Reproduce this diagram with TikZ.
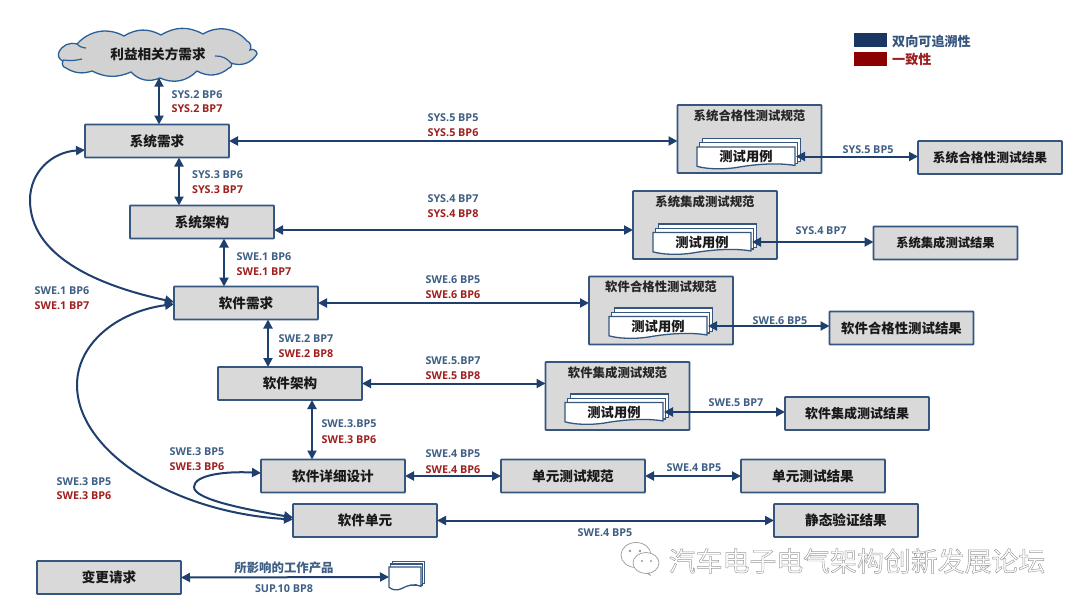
\documentclass[tikz,border=0pt]{standalone}
\usepackage{fontspec}
\usetikzlibrary{arrows.meta}
\newfontfamily\cjk{Noto Sans CJK SC}
\newfontfamily\latinlabel{Open Sans}
\definecolor{navy}{HTML}{1F3F6E}
\definecolor{boxline}{HTML}{34567F}
\definecolor{boxfill}{HTML}{D9D9D9}
\definecolor{bluetext}{HTML}{3F5F85}
\definecolor{redtext}{HTML}{A02020}
\definecolor{legendblue}{HTML}{1A3663}
\definecolor{legendred}{HTML}{8B0000}
\definecolor{cloudline}{HTML}{2A6099}
\newcommand{\boxfont}[1]{\cjk\bfseries\fontsize{#1}{15}\selectfont}
\tikzset{
  box/.style={draw=boxline,fill=boxfill,line width=1.6pt,outer sep=0pt,inner sep=0pt,
    minimum width=144pt,minimum height=33pt,rounded corners=0.5pt,font=\boxfont{13.6},text=black!90},
  specbox/.style={box,minimum height=68pt},
  spectitle/.style={font=\boxfont{12.4},text=black!85,inner sep=0pt},
  link/.style={draw=navy,line width=2pt,{Triangle[length=9pt,width=9pt]}-{Triangle[length=9pt,width=9pt]}},
  bluelabel/.style={font=\latinlabel\bfseries\fontsize{10.8}{12}\selectfont,text=bluetext,inner sep=0pt},
  redlabel/.style={font=\latinlabel\bfseries\fontsize{10.8}{12}\selectfont,text=redtext,inner sep=0pt},
  sheet/.style={draw=boxline,fill=white,line width=1.3pt},
  doctext/.style={font=\boxfont{13.3},text=black!90,inner sep=0pt,outer sep=0pt},
}
% Stack of three sheets with a wavy lower edge; #1 name, #2 x, #3 y, #4 width, #5 height, #6 step, #7 text
\newcommand{\sheetstack}[7]{%
  \foreach \k in {2,1}{
    \draw[sheet] ({#2+\k*#6},{#3-\k*#6*1.6}) rectangle ({#2+#4+\k*#6},{#3+#5-3-\k*#6*0.6});
  }
  \draw[sheet] (#2,#3) -- ({#2+#4},#3) -- ({#2+#4},{#3+#5*0.88})
     .. controls ({#2+#4*0.8},{#3+#5*0.72}) and ({#2+#4*0.55},{#3+#5*0.85}) .. ({#2+#4*0.4},{#3+#5*0.98})
     .. controls ({#2+#4*0.25},{#3+#5*1.08}) and ({#2+#4*0.1},{#3+#5*1.05}) .. (#2,{#3+#5*0.92}) -- cycle;
  \node[doctext,minimum width=#4 pt,minimum height=#5 pt] (#1) at ({#2+#4/2},{#3+#5/2-1}) {#7};
}
\begin{document}
\begin{tikzpicture}[x=1pt,y=-1pt]
\useasboundingbox (0,0) rectangle (1080,608);
\fill[white] (0,0) rectangle (1080,608);

% Stakeholder cloud
\filldraw[draw=cloudline,fill=boxfill!97!black,line width=1.3pt]
  (59,52) to[bend left=40] (77,44) to[bend left=38] (124,36) to[bend left=30] (161,35)
  to[bend left=30] (203,34) to[bend left=40] (247,41) to[bend left=50] (250,50)
  to[bend left=70] (257,54) to[bend left=40] (231,63) to[bend left=70] (229,68)
  to[bend left=35] (197,71) to[bend left=35] (160,78) to[bend left=35] (131,72)
  to[bend left=25] (92,71) to[bend left=25] (66,68) to[bend left=60] (63,61)
  to[bend left=50] cycle;
\draw[draw=cloudline,line width=1.2pt] (63,60) to[bend right=10] (82,59);
\draw[draw=cloudline,line width=1.2pt] (215,56) to[bend left=25] (231,63);
\draw[draw=cloudline,line width=1.2pt] (77,44) to[bend right=20] (86,48);
\node[font=\boxfont{13.6},text=black!90,inner sep=0pt,minimum width=198pt,minimum height=47pt] (cloud) at (158,54) {利益相关方需求};

% Requirement and design chain
\node[box] (sysreq) at (157,141) {系统需求};
\node[box] (sysarch) at (202,222) {系统架构};
\node[box] (swreq) at (246,303) {软件需求};
\node[box] (swarch) at (290,383.5) {软件架构};
\node[box] (swdd) at (333,476) {软件详细设计};
\node[box] (swunit) at (365,520.5) {软件单元};
\node[box] (change) at (109,577.5) {变更请求};

% Unit test row
\node[box] (utspec) at (573,476) {单元测试规范};
\node[box] (utres) at (813,476) {单元测试结果};
\node[box] (static) at (846,520.5) {静态验证结果};

% Test specifications with their stacks of test cases
\node[specbox] (spec1) at (749.5,139) {};
\node[spectitle] (title1) at (749.5,116) {系统合格性测试规范};
\sheetstack{doc1}{697}{147}{98}{21}{2.7}{测试用例}
\node[specbox] (spec2) at (705,225) {};
\node[spectitle] (title2) at (705,201.5) {系统集成测试规范};
\sheetstack{doc2}{653}{232.5}{98}{21}{2.7}{测试用例}
\node[specbox] (spec3) at (661,310.5) {};
\node[spectitle] (title3) at (661,287) {软件合格性测试规范};
\sheetstack{doc3}{609}{316.5}{98}{21}{2.7}{测试用例}
\node[specbox] (spec4) at (617.5,396) {};
\node[spectitle] (title4) at (617.5,372.5) {软件集成测试规范};
\sheetstack{doc4}{565}{402.5}{98}{21}{2.7}{测试用例}

% Test results
\node[box,font=\boxfont{12.7}] (res1) at (990,157.5) {系统合格性测试结果};
\node[box,font=\boxfont{12.3}] (res2) at (945.5,243) {系统集成测试结果};
\node[box,font=\boxfont{13.4}] (res3) at (901.5,328) {软件合格性测试结果};
\node[box,font=\boxfont{13}] (res4) at (857,413.5) {软件集成测试结果};

% Sheets of affected work products
\sheetstack{work}{389}{567}{32}{22}{1.8}{}

% Vertical traceability links
\draw[link] ([xshift=1pt]cloud.south) -- ([xshift=2pt]sysreq.north);
\draw[link] ([xshift=22pt]sysreq.south) -- ([xshift=-23pt]sysarch.north);
\draw[link] ([xshift=22pt]sysarch.south) -- ([xshift=-22pt]swreq.north);
\draw[link] ([xshift=22pt]swreq.south) -- ([xshift=-22pt]swarch.north);
\draw[link] ([xshift=22pt]swarch.south) -- ([xshift=-21pt]swdd.north);

% Horizontal links to the test specifications and results
\draw[link] (sysreq.east) -- (sysreq.east -| spec1.west);
\draw[link] ([yshift=-8pt]sysarch.east) -- ([yshift=-8pt]sysarch.east -| spec2.west);
\draw[link] (swreq.east) -- (swreq.east -| spec3.west);
\draw[link] (swarch.east) -- (swarch.east -| spec4.west);
\draw[link] (swdd.east) -- (utspec.west);
\draw[link] (utspec.east) -- (utres.west);
\draw[link] (swunit.east) -- (static.west);
\draw[link] (change.east) -- (work.west);
\draw[link] ([xshift=1pt]doc1.east) -- (doc1.east -| res1.west);
\draw[link] ([xshift=1pt]doc2.east) -- (doc2.east -| res2.west);
\draw[link] ([xshift=1pt]doc3.east) -- (doc3.east -| res3.west);
\draw[link] ([xshift=1pt]doc4.east) -- (doc4.east -| res4.west);

% Curved links
\draw[link] ([yshift=-9pt]sysreq.west) .. controls (52,152) and (30,172) .. (30,200)
   .. controls (30,255) and (95,285) .. ([yshift=1pt]swreq.west);
\draw[link] ([yshift=-1pt]swreq.west) .. controls (115,312) and (77,345) .. (77,385)
   .. controls (77,450) and (170,512) .. ([yshift=1pt]swunit.west);
\draw[link] ([yshift=3pt]swdd.west) .. controls (225,471) and (194,475) .. (194,487)
   .. controls (194,500) and (250,510) .. ([yshift=3pt]swunit.west);

% Process reference labels
\node[bluelabel] (l1) at (197,95) {SYS.2 BP6};
\node[redlabel] (l2) at (197,109) {SYS.2 BP7};
\node[bluelabel] (l3) at (217.5,175) {SYS.3 BP6};
\node[redlabel] (l4) at (217.5,190) {SYS.3 BP7};
\node[bluelabel] (l5) at (264,257) {SWE.1 BP6};
\node[redlabel] (l6) at (264,272) {SWE.1 BP7};
\node[bluelabel] (l7) at (306,339) {SWE.2 BP7};
\node[redlabel] (l8) at (306,354) {SWE.2 BP8};
\node[bluelabel] (l9) at (349,424) {SWE.3.BP5};
\node[redlabel] (l10) at (349,440) {SWE.3 BP6};
\node[bluelabel] (l11) at (62,291) {SWE.1 BP6};
\node[redlabel] (l12) at (62,306) {SWE.1 BP7};
\node[bluelabel] (l13) at (197,452) {SWE.3 BP5};
\node[redlabel] (l14) at (197,467) {SWE.3 BP6};
\node[bluelabel] (l15) at (84,482) {SWE.3 BP5};
\node[redlabel] (l16) at (84,496) {SWE.3 BP6};
\node[bluelabel] (l17) at (453,118) {SYS.5 BP5};
\node[redlabel] (l18) at (453,133) {SYS.5 BP6};
\node[bluelabel] (l19) at (453,199) {SYS.4 BP7};
\node[redlabel] (l20) at (453,214) {SYS.4 BP8};
\node[bluelabel] (l21) at (453,280) {SWE.6 BP5};
\node[redlabel] (l22) at (453,295) {SWE.6 BP6};
\node[bluelabel] (l23) at (453,361) {SWE.5.BP7};
\node[redlabel] (l24) at (453,376) {SWE.5 BP8};
\node[bluelabel] (l25) at (453,454) {SWE.4 BP5};
\node[redlabel] (l26) at (453,470) {SWE.4 BP6};
\node[bluelabel] (l27) at (605,533) {SWE.4 BP5};
\node[bluelabel] (l28) at (694,468) {SWE.4 BP5};
\node[bluelabel] (l29) at (868,150) {SYS.5 BP5};
\node[bluelabel] (l30) at (821,231) {SYS.4 BP7};
\node[bluelabel] (l31) at (780,321) {SWE.6 BP5};
\node[bluelabel] (l32) at (736,403) {SWE.5 BP7};
\node[font=\boxfont{12.4},text=bluetext,inner sep=0pt] (l33) at (284,568) {所影响的工作产品};
\node[bluelabel] (l34) at (284,589) {SUP.10 BP8};

% Legend
\fill[legendblue] (854,33) rectangle (887,47);
\fill[legendred] (854,52) rectangle (887,66);
\node[anchor=west,font=\boxfont{13.1},text=bluetext!70!navy,inner sep=0pt] (leg1) at (892,41) {双向可追溯性};
\node[anchor=west,font=\boxfont{13.1},text=redtext,inner sep=0pt] (leg2) at (892,60) {一致性};

% Forum watermark, its lettering stroked rather than filled
\begin{scope}[draw=black!40,line width=0.7pt,fill=white]
  \filldraw (636,555) ellipse [x radius=15,y radius=12.5];
  \filldraw (640,569) -- (650,575) -- (647,571) -- cycle;
  \filldraw (646,563) ellipse [x radius=13,y radius=10.5];
  \fill[black!40] (630,551) circle (1.3) (640,551) circle (1.3) (642,561) circle (1.1) (651,561) circle (1.1);
\end{scope}
\node[font=\cjk\fontsize{26.9}{30}\selectfont,text=black!50,inner sep=0pt] (mark) at (857,561)
  {\special{pdf:code q 1 Tr 0.45 w 0.6 G}汽车电子电气架构创新发展论坛\special{pdf:code Q}};
\end{tikzpicture}
\end{document}
